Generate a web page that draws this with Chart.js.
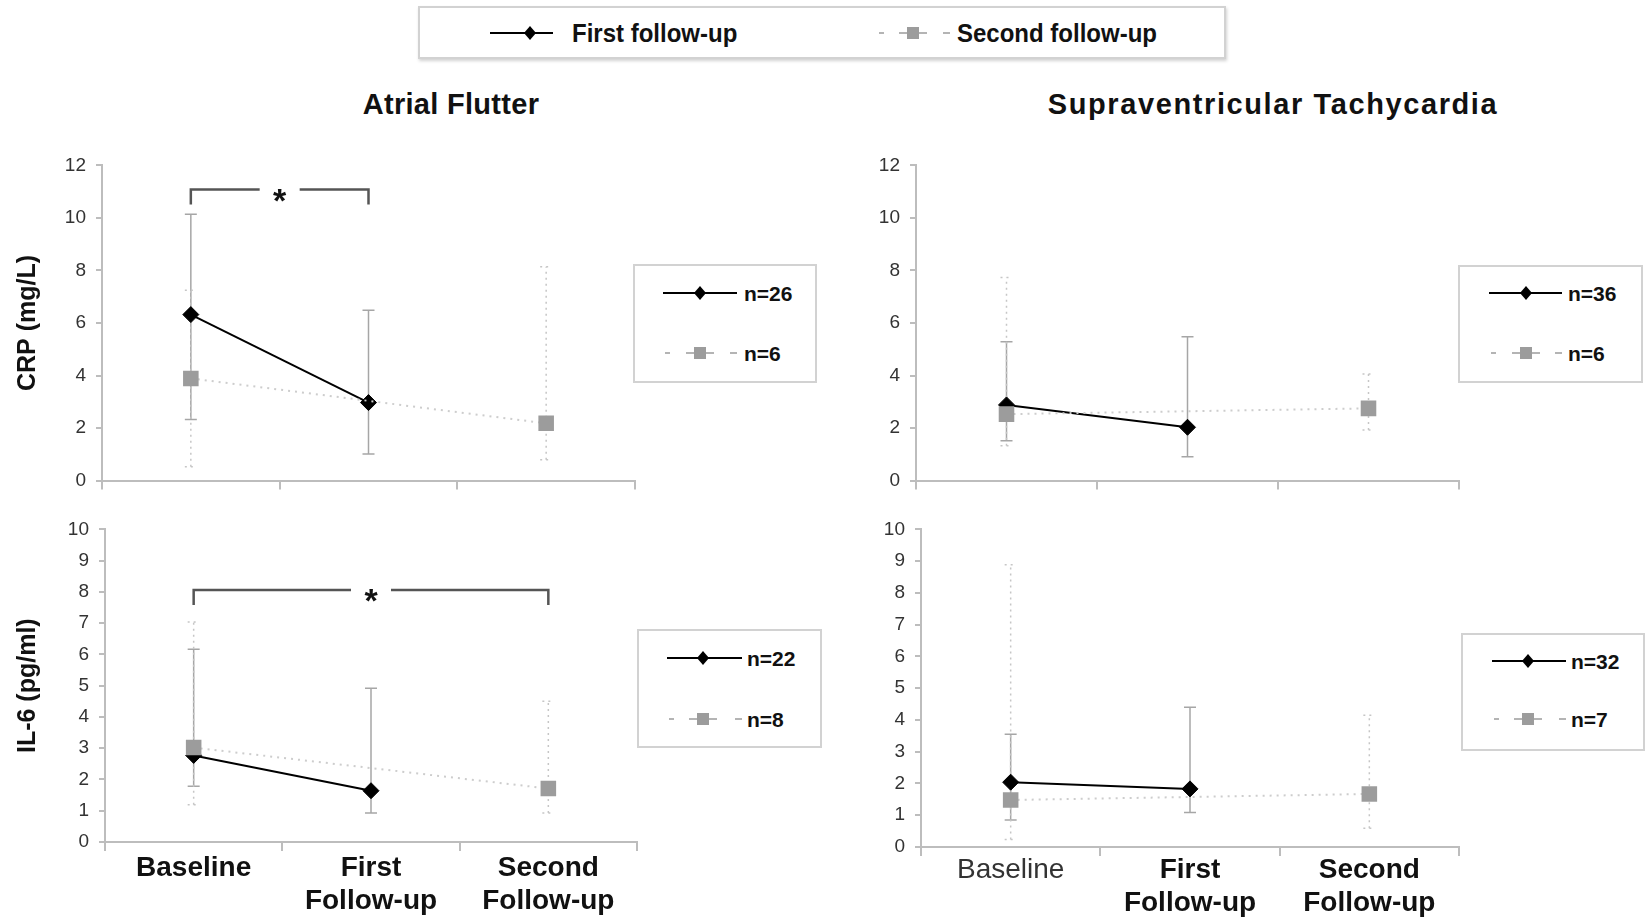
<!DOCTYPE html>
<html>
<head>
<meta charset="utf-8">
<script src="https://cdn.jsdelivr.net/npm/chart.js@4.4.1/dist/chart.umd.min.js"></script>
<style>
body { margin: 0; width: 1646px; height: 920px; background: #fff; position: relative; overflow: hidden;
       font-family: "Liberation Sans", Arial, sans-serif; color: #111; }
.panel { position: absolute; }
.title { position: absolute; font-weight: bold; font-size: 29px; white-space: nowrap; transform: translate(-50%, -50%); }
.box { position: absolute; box-sizing: border-box; border: 2px solid #d2d2d2; background: #fff; }
.txt { position: absolute; font-weight: bold; white-space: nowrap; line-height: 1; }
svg { position: absolute; overflow: visible; }
</style>
</head>
<body>
<div class="title" style="left:451px;top:104px;letter-spacing:0.3px">Atrial Flutter</div>
<div class="title" style="left:1273px;top:104px;letter-spacing:1.6px">Supraventricular Tachycardia</div>

<script>
Chart.defaults.font.family = '"Liberation Sans", Arial, sans-serif';
Chart.defaults.animation = false;

// categories and axis ticks
const categories = ['Baseline', ['First', 'Follow-up'], ['Second', 'Follow-up']];
const seriesNames = ['First follow-up', 'Second follow-up'];
const crpTicks = [0, 2, 4, 6, 8, 10, 12];
const il6Ticks = [0, 1, 2, 3, 4, 5, 6, 7, 8, 9, 10];

// CRP - Atrial Flutter
const crpAfFirst = [6.32, 2.97, null];
const crpAfFirstLow = [2.33, 1.01, null];
const crpAfFirstHigh = [10.14, 6.49, null];
const crpAfSecond = [3.89, null, 2.18];
const crpAfSecondLow = [0.53, null, 0.79];
const crpAfSecondHigh = [7.25, null, 8.14];
const crpAfN = ['n=26', 'n=6'];
const crpAfSig = [0, 1, 11.08];

// CRP - Supraventricular Tachycardia
const crpSvtFirst = [2.88, 2.03, null];
const crpSvtFirstLow = [1.52, 0.91, null];
const crpSvtFirstHigh = [5.29, 5.48, null];
const crpSvtSecond = [2.53, null, 2.75];
const crpSvtSecondLow = [1.33, null, 1.93];
const crpSvtSecondHigh = [7.73, null, 4.06];
const crpSvtN = ['n=36', 'n=6'];

// IL-6 - Atrial Flutter
const il6AfFirst = [2.77, 1.64, null];
const il6AfFirstLow = [1.78, 0.93, null];
const il6AfFirstHigh = [6.17, 4.92, null];
const il6AfSecond = [3.02, null, 1.71];
const il6AfSecondLow = [1.19, null, 0.93];
const il6AfSecondHigh = [7.04, null, 4.5];
const il6AfN = ['n=22', 'n=8'];
const il6AfSig = [0, 2, 8.06];

// IL-6 - Supraventricular Tachycardia
const il6SvtFirst = [2.04, 1.83, null];
const il6SvtFirstLow = [0.85, 1.09, null];
const il6SvtFirstHigh = [3.55, 4.4, null];
const il6SvtSecond = [1.48, null, 1.67];
const il6SvtSecondLow = [0.24, null, 0.59];
const il6SvtSecondHigh = [8.89, null, 4.15];
const il6SvtN = ['n=32', 'n=7'];

// error bars drawn under the lines and markers
const errorBars = {
    id: 'errorBars',
    beforeDatasetsDraw(chart) {
        const ctx = chart.ctx;
        const xs = chart.scales.x, ys = chart.scales.y;
        chart.data.datasets.forEach(ds => {
            ctx.save();
            ctx.strokeStyle = ds.errColor;
            ctx.lineWidth = 1.5;
            ctx.setLineDash(ds.errDash);
            ds.data.forEach((v, i) => {
                if (v == null) return;
                const px = xs.getPixelForValue(i);
                const lo = ys.getPixelForValue(ds.errLow[i]);
                const hi = ys.getPixelForValue(ds.errHigh[i]);
                ctx.beginPath();
                ctx.moveTo(px, lo); ctx.lineTo(px, hi);
                ctx.moveTo(px - 6, lo); ctx.lineTo(px + 6, lo);
                ctx.moveTo(px - 6, hi); ctx.lineTo(px + 6, hi);
                ctx.stroke();
            });
            ctx.restore();
        });
    }
};

// significance bracket with asterisk
const sigBracket = {
    id: 'sigBracket',
    afterDatasetsDraw(chart, args, opts) {
        if (!opts.spec) return;
        const ctx = chart.ctx;
        const xs = chart.scales.x, ys = chart.scales.y;
        const x0 = xs.getPixelForValue(opts.spec[0]);
        const x1 = xs.getPixelForValue(opts.spec[1]);
        const py = ys.getPixelForValue(opts.spec[2]);
        const mid = (x0 + x1) / 2;
        ctx.save();
        ctx.strokeStyle = '#555';
        ctx.lineWidth = 2.5;
        ctx.beginPath();
        ctx.moveTo(x0, py + 15); ctx.lineTo(x0, py); ctx.lineTo(mid - 20, py);
        ctx.moveTo(mid + 20, py); ctx.lineTo(x1, py); ctx.lineTo(x1, py + 15);
        ctx.stroke();
        ctx.fillStyle = '#111';
        ctx.font = 'bold 34px "Liberation Sans", Arial, sans-serif';
        ctx.textAlign = 'center';
        ctx.textBaseline = 'alphabetic';
        ctx.fillText('*', mid, py + 22);
        ctx.restore();
    }
};

function makePanel(p) {
    const div = document.createElement('div');
    div.className = 'panel';
    div.style.cssText = `left:${p.left}px;top:${p.top}px;width:${p.width}px;height:${p.height}px`;
    const canvas = document.createElement('canvas');
    div.appendChild(canvas);
    document.body.appendChild(div);

    return new Chart(canvas, {
        type: 'line',
        data: {
            labels: categories,
            datasets: [
                {
                    label: seriesNames[0],
                    data: p.first, errLow: p.firstLow, errHigh: p.firstHigh,
                    errColor: '#a6a6a6', errDash: [],
                    borderColor: '#000', borderWidth: 2,
                    pointStyle: 'rectRot', pointRadius: 8,
                    pointBackgroundColor: '#000', pointBorderColor: '#000', pointBorderWidth: 1,
                    spanGaps: false, order: 1
                },
                {
                    label: seriesNames[1],
                    data: p.second, errLow: p.secondLow, errHigh: p.secondHigh,
                    errColor: '#c6c6c6', errDash: [2, 4],
                    borderColor: '#cdcdcd', borderWidth: 2, borderDash: [2, 5],
                    pointStyle: 'rect', pointRadius: 11,
                    pointBackgroundColor: '#9c9c9c', pointBorderColor: '#9c9c9c', pointBorderWidth: 0,
                    spanGaps: true, order: 0
                }
            ]
        },
        options: {
            responsive: true,
            maintainAspectRatio: false,
            layout: { padding: { top: p.padTop, right: p.padRight, left: 0, bottom: 0 } },
            plugins: {
                legend: { display: false },
                tooltip: { enabled: false },
                sigBracket: { spec: p.sig }
            },
            scales: {
                x: {
                    offset: true,
                    grid: { offset: true, drawOnChartArea: false, drawTicks: true, tickLength: 9, color: '#bdbdbd', lineWidth: 2 },
                    border: { color: '#bdbdbd', width: 2 },
                    ticks: {
                        display: p.showLabels,
                        autoSkip: false, maxRotation: 0, padding: p.labelPad || 0,
                        color: ctx => (p.plainFirst && ctx.index === 0) ? '#333' : '#111',
                        font: ctx => ({ size: 28, lineHeight: 1.2, weight: (p.plainFirst && ctx.index === 0) ? 'normal' : 'bold' })
                    },
                    afterFit: s => { s.height = p.xHeight; }
                },
                y: {
                    min: 0,
                    max: p.ticks[p.ticks.length - 1],
                    afterBuildTicks: s => { s.ticks = p.ticks.map(v => ({ value: v })); },
                    grid: { drawOnChartArea: false, drawTicks: true, tickLength: 6, color: '#bdbdbd', lineWidth: 2 },
                    border: { color: '#bdbdbd', width: 2 },
                    ticks: { color: '#333', padding: 10, font: { size: 19 } },
                    title: {
                        display: !!p.yTitle, text: p.yTitle, color: '#111',
                        font: { size: 25, weight: 'bold' }, padding: { top: 13, bottom: 0 }
                    },
                    afterFit: s => { s.width = p.yWidth; }
                }
            }
        },
        plugins: [errorBars, sigBracket]
    });
}

makePanel({ left: 0, top: 144, width: 650, height: 358, yWidth: 102, padTop: 15, padRight: 15, xHeight: 10,
    ticks: crpTicks, yTitle: 'CRP (mg/L)', showLabels: false, sig: crpAfSig,
    first: crpAfFirst, firstLow: crpAfFirstLow, firstHigh: crpAfFirstHigh,
    second: crpAfSecond, secondLow: crpAfSecondLow, secondHigh: crpAfSecondHigh });

makePanel({ left: 820, top: 144, width: 650, height: 358, yWidth: 96, padTop: 15, padRight: 11, xHeight: 10,
    ticks: crpTicks, yTitle: '', showLabels: false, sig: null,
    first: crpSvtFirst, firstLow: crpSvtFirstLow, firstHigh: crpSvtFirstHigh,
    second: crpSvtSecond, secondLow: crpSvtSecondLow, secondHigh: crpSvtSecondHigh });

makePanel({ left: 0, top: 508, width: 650, height: 412, yWidth: 105, padTop: 13, padRight: 13, xHeight: 78,
    ticks: il6Ticks, yTitle: 'IL-6 (pg/ml)', showLabels: true, sig: il6AfSig,
    first: il6AfFirst, firstLow: il6AfFirstLow, firstHigh: il6AfFirstHigh,
    second: il6AfSecond, secondLow: il6AfSecondLow, secondHigh: il6AfSecondHigh });

makePanel({ left: 820, top: 508, width: 650, height: 412, yWidth: 101, padTop: 13, padRight: 9, xHeight: 73,
    ticks: il6Ticks, yTitle: '', showLabels: true, plainFirst: true, labelPad: -3, sig: null,
    first: il6SvtFirst, firstLow: il6SvtFirstLow, firstHigh: il6SvtFirstHigh,
    second: il6SvtSecond, secondLow: il6SvtSecondLow, secondHigh: il6SvtSecondHigh });

// legend helpers (HTML boxes with small line samples)
const svgNS = 'http://www.w3.org/2000/svg';
function el(tag, attrs) {
    const e = document.createElementNS(svgNS, tag);
    for (const k in attrs) e.setAttribute(k, attrs[k]);
    return e;
}
function addBox(x, y, w, h, shadow) {
    const b = document.createElement('div');
    b.className = 'box';
    b.style.cssText = `left:${x}px;top:${y}px;width:${w}px;height:${h}px;` + (shadow ? 'box-shadow:1px 2px 3px rgba(0,0,0,0.18);' : '');
    document.body.appendChild(b);
}
function addSample(kind, x0, x1, mx, y) {
    const svg = el('svg', { width: x1 - x0, height: 20 });
    svg.style.left = x0 + 'px';
    svg.style.top = (y - 10) + 'px';
    const w = x1 - x0, cx = mx - x0, cy = 10;
    if (kind === 'solid') {
        svg.appendChild(el('line', { x1: 0, y1: cy, x2: w, y2: cy, stroke: '#000', 'stroke-width': 2 }));
        svg.appendChild(el('polygon', { points: `${cx},${cy - 7} ${cx + 6},${cy} ${cx},${cy + 7} ${cx - 6},${cy}`, fill: '#000' }));
    } else {
        [[2, 7], [cx - 14, cx + 14], [w - 7, w]].forEach(s => {
            svg.appendChild(el('line', { x1: s[0], y1: cy, x2: s[1], y2: cy, stroke: '#b4b4b4', 'stroke-width': 2 }));
        });
        svg.appendChild(el('rect', { x: cx - 6, y: cy - 6, width: 12, height: 12, fill: '#9c9c9c' }));
    }
    document.body.appendChild(svg);
}
function addText(text, x, y, size, sx) {
    const t = document.createElement('div');
    t.className = 'txt';
    t.style.cssText = `left:${x}px;top:${y}px;font-size:${size}px;transform-origin:0 0;transform:translateY(-50%) scaleX(${sx || 1})`;
    t.textContent = text;
    document.body.appendChild(t);
}

// main legend
addBox(418, 6, 808, 53, true);
addSample('solid', 490, 553, 530, 33);
addText(seriesNames[0], 572, 33, 25, 0.96);
addSample('dash', 877, 950, 913, 33);
addText(seriesNames[1], 957, 33, 25, 0.96);

// per-panel n legends
function nLegend(bx, by, bw, bh, sx0, sx1, mx, y1, y2, tx, labels) {
    addBox(bx, by, bw, bh, false);
    addSample('solid', sx0, sx1, mx, y1);
    addText(labels[0], tx, y1, 21);
    addSample('dash', sx0, sx1, mx, y2);
    addText(labels[1], tx, y2, 21);
}
nLegend(633, 264, 184, 119, 663, 737, 700, 293, 353, 744, crpAfN);
nLegend(1458, 265, 185, 118, 1489, 1562, 1526, 293, 353, 1568, crpSvtN);
nLegend(637, 629, 185, 119, 667, 742, 703, 658, 719, 747, il6AfN);
nLegend(1461, 633, 184, 118, 1492, 1566, 1528, 661, 719, 1571, il6SvtN);
</script>
</body>
</html>
